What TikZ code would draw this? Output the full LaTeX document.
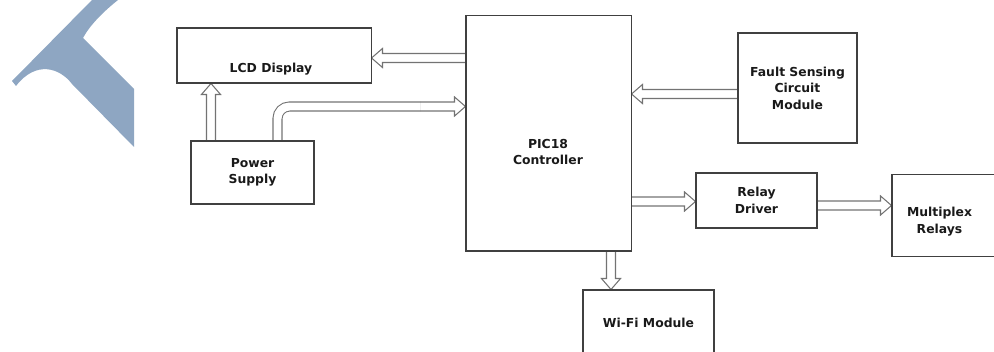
\documentclass[tikz,border=0pt]{standalone}
\usepackage{fontspec}
\setmainfont{DejaVu Sans}
\usepackage{xcolor}
\usepackage{tikz}
\usetikzlibrary{calc, backgrounds}
\definecolor{wmblue}{RGB}{142,166,194}
\tikzset{
  blk/.style={rectangle, draw=black!75, line width=0.75pt, inner sep=0pt},
  lbl/.style={font=\bfseries\fontsize{8.8}{11.8}\selectfont, align=center,
              inner sep=0pt, text=black!90},
  harrow/.style={draw=black!55, line width=0.75pt, line join=miter,
    to path={($(\tikztostart)!3.2pt!90:(\tikztotarget)$)
      -- ($(\tikztotarget)!7.8pt!(\tikztostart)!3.2pt!90:(\tikztotarget)$)
      -- ($(\tikztotarget)!7.8pt!(\tikztostart)!6.8pt!90:(\tikztotarget)$)
      -- (\tikztotarget)
      -- ($(\tikztotarget)!7.8pt!(\tikztostart)!6.8pt!-90:(\tikztotarget)$)
      -- ($(\tikztotarget)!7.8pt!(\tikztostart)!3.2pt!-90:(\tikztotarget)$)
      -- ($(\tikztostart)!3.2pt!-90:(\tikztotarget)$)}},
  hshaft/.style={draw=black!55, line width=0.75pt, double=white,
                 double distance=5.65pt},
}
\begin{document}
\begin{tikzpicture}[x=0.025cm, y=-0.025cm]
  \useasboundingbox (0,0) rectangle (994,352);
  % watermark
  \fill[wmblue] (12,81) -- (92,0) -- (118,0)
    .. controls (103,12) and (90,25) .. (83,38) -- (134,89) -- (134,147)
    -- (72,84) .. controls (60,68) and (36,60) .. (16,86) -- cycle;

  \node[blk, minimum width=4.85cm, minimum height=1.375cm] (lcd) at (274,55.5) {};
  \node[lbl] (lcdtxt) at (271,69) {LCD Display};
  \node[blk, minimum width=3.075cm, minimum height=1.575cm, lbl] (psu) at (252.5,172.5) {Power\\Supply};
  \node[blk, minimum width=4.125cm, minimum height=5.875cm] (pic) at (548.5,133.5) {};
  \node[lbl] (pictxt) at (548,152) {PIC18\\Controller};
  \node[blk, minimum width=2.975cm, minimum height=2.75cm, lbl] (flt) at (797.5,88) {Fault Sensing\\Circuit\\Module};
  \node[blk, minimum width=3.025cm, minimum height=1.375cm, lbl] (rly) at (756.5,200.5) {Relay\\Driver};
  \node[blk, minimum width=2.7cm, minimum height=2.05cm] (mux) at (946,215.5) {};
  \node[lbl] (muxtxt) at (939.5,221.5) {Multiplex\\Relays};
  \node[blk, minimum width=3.275cm, minimum height=1.65cm, lbl] (wifi) at (648.5,323) {Wi-Fi Module};

  \begin{scope}[on background layer]
    \draw[harrow] (pic.west |- 0,58) to (lcd.east |- 0,58);
    \draw[harrow] (psu.north -| 211,0) to (lcd.south -| 211,0);
    \coordinate (bend) at (420,106.5);
    \draw[hshaft, rounded corners=0.3cm] (psu.north -| 277.5,0) |- (bend);
    \draw[harrow] (bend) to (pic.west |- bend);
    \draw[harrow] (flt.west |- 0,94) to (pic.east |- 0,94);
    \draw[harrow] (pic.east |- 0,201.5) to (rly.west |- 0,201.5);
    \draw[harrow] (rly.east |- 0,205.5) to (mux.west |- 0,205.5);
    \draw[harrow] (pic.south -| 611,0) to (wifi.north -| 611,0);
  \end{scope}
\end{tikzpicture}
\end{document}
